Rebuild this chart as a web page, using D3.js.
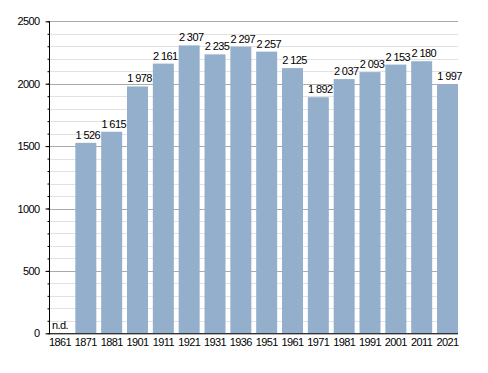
<!DOCTYPE html>
<meta charset="utf-8">
<style>
    body { margin: 0; background: #fff; }
    text { font-family: "Liberation Sans", Arial, sans-serif; font-size: 11px; letter-spacing: -0.6px; fill: #000; }
    .bar { fill: #94afcc; }
    .grid-minor { stroke: #e2e2e2; }
    .grid-major { stroke: #aaaaaa; }
</style>
<svg width="488" height="373"></svg>
<script src="https://d3js.org/d3.v7.min.js"></script>
<script>

    var years = ["1861", "1871", "1881", "1901", "1911", "1921", "1931", "1936",
                 "1951", "1961", "1971", "1981", "1991", "2001", "2011", "2021"];
    var population = [null, 1526, 1615, 1978, 2161, 2307, 2235, 2297,
                      2257, 2125, 1892, 2037, 2093, 2153, 2180, 1997];
    var yTicks = [0, 500, 1000, 1500, 2000, 2500];

    var svg = d3.select("svg"),
        plotLeft = 49.5, plotRight = 458, plotTop = 21.3, plotBottom = 333.3;

    var x = d3.scaleBand().domain(years).range([plotLeft, plotRight]).paddingInner(0.188).paddingOuter(0),
        y = d3.scaleLinear().domain([0, 2500]).range([plotBottom, plotTop]);

    var fmt = function(v) { return d3.format(",")(v).replace(",", " "); };

    var rows = years.map(function(d, i) { return {year: d, value: population[i]}; });

    // gridlines
    svg.append("g").selectAll("line")
        .data(d3.range(0, 2501, 100))
        .enter().append("line")
        .attr("class", function(d) { return d % 500 === 0 ? "grid-major" : "grid-minor"; })
        .attr("x1", plotLeft).attr("x2", plotRight)
        .attr("y1", function(d) { return Math.round(y(d)) + 0.5; })
        .attr("y2", function(d) { return Math.round(y(d)) + 0.5; });

    // bars
    svg.append("g").selectAll(".bar")
        .data(rows.filter(function(d) { return d.value != null; }))
        .enter().append("rect")
        .attr("class", "bar")
        .attr("x", function(d) { return x(d.year); })
        .attr("y", function(d) { return y(d.value); })
        .attr("width", x.bandwidth())
        .attr("height", function(d) { return plotBottom - y(d.value); });

    // value labels
    svg.append("g").selectAll("text")
        .data(rows)
        .enter().append("text")
        .attr("text-anchor", "middle")
        .attr("x", function(d) { return x(d.year) + x.bandwidth() / 2 + (d.value == null ? 0 : 2); })
        .attr("y", function(d) { return d.value == null ? plotBottom - 4 : y(d.value) - 4; })
        .text(function(d) { return d.value == null ? "n.d." : fmt(d.value); });

    // y axis with minor ticks
    var yAxis = svg.append("g")
        .attr("transform", "translate(" + plotLeft + ",0)");
    yAxis.append("g")
        .call(d3.axisLeft(y).tickValues(d3.range(0, 2501, 100)).tickSize(2).tickFormat(""))
        .call(function(g) { g.select(".domain").remove(); });
    yAxis.append("g")
        .call(d3.axisLeft(y).tickValues(yTicks).tickSize(4).tickPadding(6).tickFormat(d3.format("d")))
        .call(function(g) { g.select(".domain").remove(); g.attr("font-size", null).attr("font-family", null); });
    yAxis.selectAll(".tick line").attr("stroke", "#000");
    yAxis.selectAll(".tick text").attr("fill", "#000");
    yAxis.append("line").attr("x1", 0).attr("x2", 0).attr("y1", plotTop).attr("y2", plotBottom + 1).attr("stroke", "#000");

    // x axis
    var xAxis = svg.append("g")
        .attr("transform", "translate(0," + plotBottom + ")")
        .call(d3.axisBottom(x).tickSize(0).tickPadding(4));
    xAxis.attr("font-size", null).attr("font-family", null);
    xAxis.select(".domain").remove();
    xAxis.selectAll("text").attr("fill", "#000").attr("dy", "0.8em");
    xAxis.append("line").attr("x1", plotLeft).attr("x2", plotRight).attr("y1", 0.5).attr("y2", 0.5).attr("stroke", "#000");
</script>
